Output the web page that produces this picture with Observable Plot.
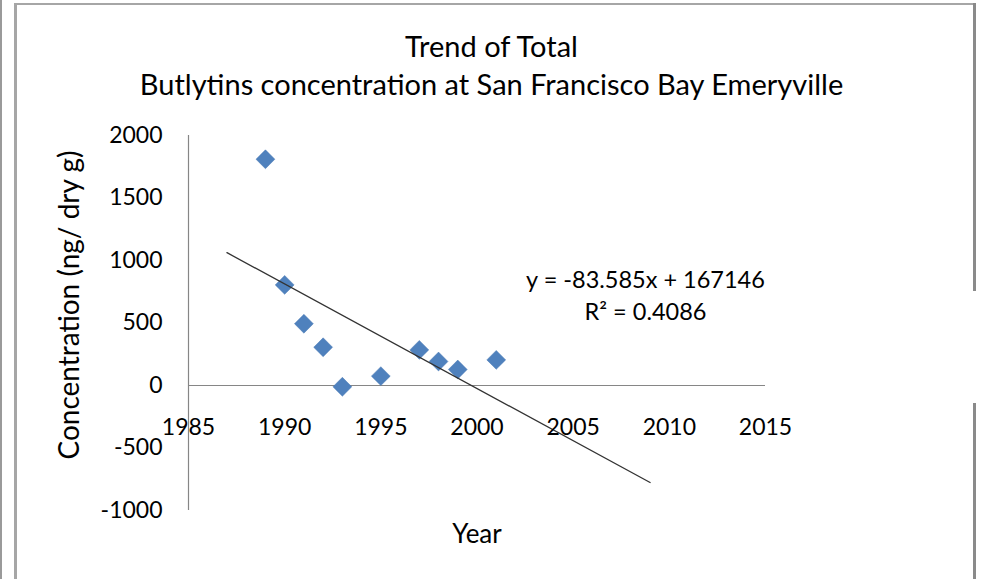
<!DOCTYPE html>
<html>
<head>
<meta charset="utf-8">
<script src="https://cdn.jsdelivr.net/npm/d3@7"></script>
<script src="https://cdn.jsdelivr.net/npm/@observablehq/plot@0.6"></script>
<style>
  html, body { margin: 0; padding: 0; background: #fff; }
  #wrap { position: relative; width: 983px; height: 579px; overflow: hidden; background: #fff; font-family: Lato, "Open Sans", sans-serif; color: #000; }
  #wrap svg { position: absolute; left: 0; top: 0; }
  .bar { position: absolute; }
  .title { position: absolute; left: 0; width: 983px; text-align: center; white-space: nowrap; font-size: 29px; line-height: 1; }
  #ytitle { position: absolute; left: 68px; top: 305px; transform: translate(-50%, -50%) rotate(-90deg); white-space: nowrap; font-size: 28px; line-height: 1; }
  #xtitle { position: absolute; left: 477px; top: 533px; transform: translate(-50%, -50%); white-space: nowrap; font-size: 26px; line-height: 1; }
</style>
</head>
<body>
<div id="wrap">
  <div class="bar" style="left:0;top:0;width:2px;height:579px;background:#9a9a9a"></div>
  <div class="bar" style="left:14px;top:3px;width:3px;height:576px;background:#a6a6a6"></div>
  <div class="bar" style="left:14px;top:3px;width:962px;height:2px;background:#a6a6a6"></div>
  <div class="bar" style="left:973px;top:3px;width:3px;height:288px;background:#8a8a8a"></div>
  <div class="bar" style="left:973px;top:403px;width:3px;height:176px;background:#8a8a8a"></div>
</div>
<script>
// Data
const years = [1989, 1990, 1991, 1992, 1993, 1995, 1997, 1998, 1999, 2001];
const concentration = [1810, 805, 494, 306, -10, 75, 285, 192, 128, 205];
// Trendline as given on the chart
const slope = -83.585;
const intercept = 167146;
const trendYears = [1987, 2009];
const xTicks = [1985, 1990, 1995, 2000, 2005, 2010, 2015];
const yTicks = [-1000, -500, 0, 500, 1000, 1500, 2000];
const titleLines = ["Trend of Total", "Butlytins concentration at San Francisco Bay Emeryville"];
const yTitle = "Concentration (ng/ dry g)";
const xTitle = "Year";
const eqLines = ["y = -83.585x + 167146", "R² = 0.4086"];

const points = years.map((y, i) => ({year: y, value: concentration[i]}));
const trend = trendYears.map(x => ({year: x, value: slope * x + intercept}));

const font = "Lato, 'Open Sans', sans-serif";
const chart = Plot.plot({
  width: 983,
  height: 579,
  marginLeft: 188,
  marginRight: 218,
  marginTop: 135,
  marginBottom: 69,
  style: {background: "transparent", fontFamily: font, overflow: "visible"},
  x: {domain: [1985, 2015], axis: null},
  y: {domain: [-1000, 2000], axis: null},
  marks: [
    Plot.ruleX([1985], {y1: -1000, y2: 2000, stroke: "#868686", strokeWidth: 1.2}),
    Plot.ruleY([0], {x1: 1985, x2: 2015, stroke: "#868686", strokeWidth: 1.2}),
    Plot.text(yTicks, {x: 1985, y: d => d, dx: -26, textAnchor: "end", text: d => String(d), fontSize: 23, fill: "#000"}),
    Plot.dot(points, {x: "year", y: "value", symbol: "diamond2", r: 8.5, fill: "#4F81BD", stroke: "#4a7bb5", strokeWidth: 0.5}),
    Plot.line(trend, {x: "year", y: "value", stroke: "#333", strokeWidth: 1.3}),
    Plot.text(xTicks, {x: d => d, y: 0, dy: 42, text: d => String(d), fontSize: 23, fill: "#000"}),
    Plot.text([eqLines[0]], {frameAnchor: "top-right", dx: -120, dy: 145, lineAnchor: "middle", text: d => d, textAnchor: "middle", fontSize: 23.5, fill: "#000"}),
    Plot.text([eqLines[1]], {frameAnchor: "top-right", dx: -120, dy: 177, lineAnchor: "middle", text: d => d, textAnchor: "middle", fontSize: 23.5, fill: "#000"})
  ]
});

const wrap = document.getElementById("wrap");
wrap.insertBefore(chart, wrap.firstChild);

const t1 = document.createElement("div");
t1.className = "title"; t1.style.top = "31px"; t1.textContent = titleLines[0];
const t2 = document.createElement("div");
t2.className = "title"; t2.style.top = "69px"; t2.textContent = titleLines[1];
const yt = document.createElement("div");
yt.id = "ytitle"; yt.textContent = yTitle;
const xt = document.createElement("div");
xt.id = "xtitle"; xt.textContent = xTitle;
wrap.append(t1, t2, yt, xt);
</script>
</body>
</html>
